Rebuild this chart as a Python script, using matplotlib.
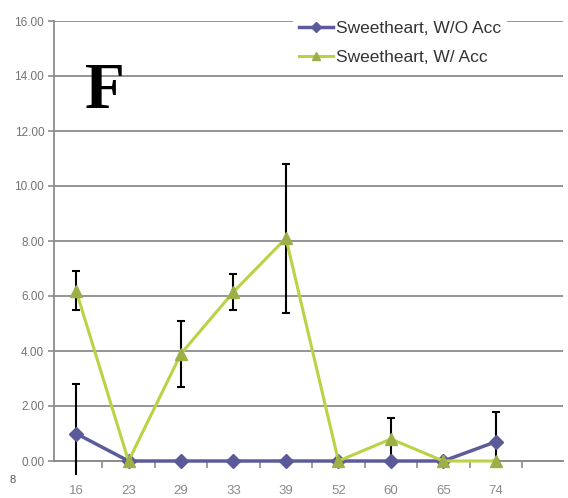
import matplotlib
matplotlib.use("Agg")
import matplotlib.pyplot as plt
from matplotlib.ticker import FixedLocator

# days after treatment
days = ["16", "23", "29", "33", "39", "52", "60", "65", "74"]

# Sweetheart without accelerator
wo_acc = [1.0, 0.0, 0.0, 0.0, 0.0, 0.0, 0.0, 0.0, 0.7]
wo_acc_err_lo = [1.8, 0, 0, 0, 0, 0, 0, 0, 0.7]
wo_acc_err_hi = [1.8, 0, 0, 0, 0, 0, 0, 0, 1.1]

# Sweetheart with accelerator
w_acc = [6.2, 0.0, 3.9, 6.15, 8.1, 0.0, 0.8, 0.0, 0.0]
w_acc_err = [0.7, 0, 1.2, 0.65, 2.7, 0, 0.75, 0, 0]

yticks = [0, 2, 4, 6, 8, 10, 12, 14, 16]

sans = ["Liberation Sans", "DejaVu Sans"]
grid_col = "#8c8c8c"

fig = plt.figure(figsize=(5.68, 4.98), dpi=100)
ax = fig.add_axes([54 / 568, 1 - 474.75 / 498, 509 / 568, 453.75 / 498])

x = list(range(len(days)))

ax.errorbar(x, wo_acc, yerr=[wo_acc_err_lo, wo_acc_err_hi], fmt="none",
            ecolor="black", elinewidth=1.5, capsize=3, capthick=1.5, zorder=3)
ax.errorbar(x, w_acc, yerr=w_acc_err, fmt="none",
            ecolor="black", elinewidth=1.5, capsize=3, capthick=1.5, zorder=3)

l1, = ax.plot(x, wo_acc, color="#5c5c9c", lw=2.5, marker="D", ms=7,
              mfc="#5a5a9a", mec="#5a5a9a", zorder=4, label="Sweetheart, W/O Acc")
l2, = ax.plot(x, w_acc, color="#bcd245", lw=2.2, marker="^", ms=8,
              mfc="#9cb048", mec="#9cb048", zorder=5, label="Sweetheart, W/ Acc")

ax.set_xlim(-0.42, 9.28)
ax.set_ylim(-0.5, 16)

# excel-like axes: x axis at zero, y axis from 0 to 16
ax.spines["top"].set_visible(False)
ax.spines["right"].set_visible(False)
ax.spines["bottom"].set_position(("data", 0))
ax.spines["left"].set_bounds(0, 16)
for s in ("bottom", "left"):
    ax.spines[s].set_color(grid_col)
    ax.spines[s].set_linewidth(1.3)

ax.set_yticks(yticks)
ax.set_yticklabels(["%.2f" % v for v in yticks], family=sans, fontsize=8.5, color="#747474")
ax.yaxis.grid(True, color=grid_col, lw=1.3)
ax.set_axisbelow(True)
ax.tick_params(axis="y", length=4, width=1.2, color=grid_col, pad=3)

ax.set_xticks(x)
ax.set_xticklabels(days, family=sans, fontsize=9.5, color="#8a8a8a")
ax.tick_params(axis="x", which="major", length=0, pad=17)
ax.xaxis.set_minor_locator(FixedLocator([i + 0.5 for i in range(-1, 9)]))
ax.tick_params(axis="x", which="minor", length=5, width=1.2, color=grid_col, direction="out")

leg = ax.legend(handles=[l1, l2], loc="upper left", bbox_to_anchor=(284 / 568, 1 - 6 / 498),
                bbox_transform=fig.transFigure, frameon=True, framealpha=1,
                facecolor="white", edgecolor="none", fancybox=False,
                prop={"family": sans, "size": 12.5}, handlelength=2.0, markerscale=0.8,
                handletextpad=0.15, labelspacing=0.8, borderpad=0.35)
for t in leg.get_texts():
    t.set_color("#333333")

fig.text(85 / 568, 1 - 108 / 498, "F", family="Liberation Serif", weight="bold",
         fontsize=47, va="baseline", ha="left")
fig.text(9 / 568, 1 - 480 / 498, "8", family=sans, fontsize=8, color="#555555",
         va="center", ha="left")

fig.savefig("out.png", dpi=100)
